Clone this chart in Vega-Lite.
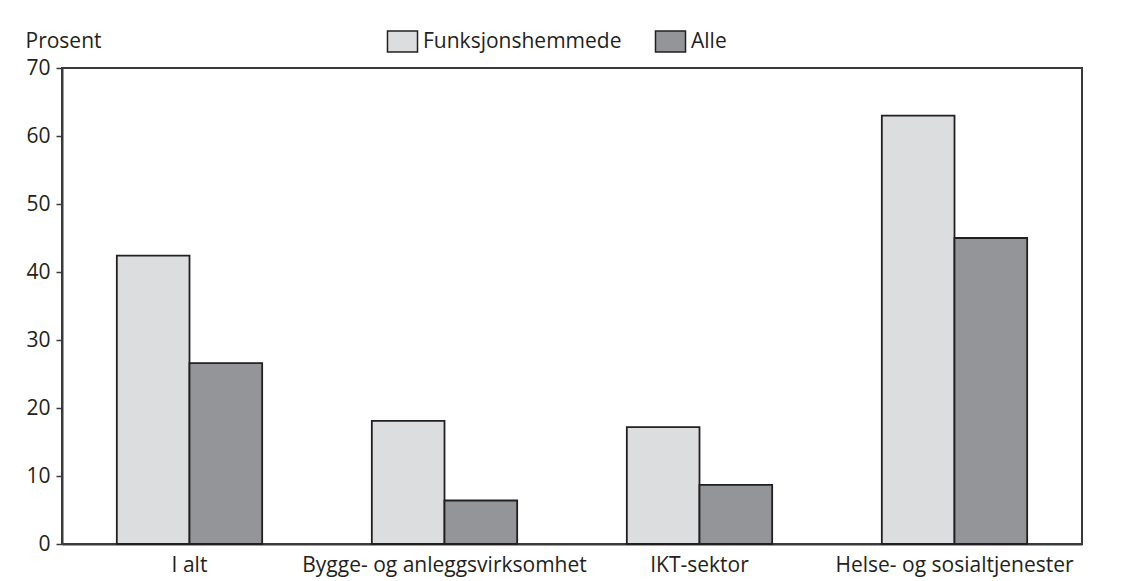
{
  "$schema": "https://vega.github.io/schema/vega-lite/v6.json",
  "width": 1020,
  "height": 476,
  "autosize": "none",
  "padding": {"left": 62, "top": 68, "right": 55, "bottom": 37},
  "background": "white",
  "data": {
    "values": [
      {"kategori": "I alt", "gruppe": "Funksjonshemmede", "prosent": 42.4},
      {"kategori": "I alt", "gruppe": "Alle", "prosent": 26.6},
      {"kategori": "Bygge- og anleggsvirksomhet", "gruppe": "Funksjonshemmede", "prosent": 18.1},
      {"kategori": "Bygge- og anleggsvirksomhet", "gruppe": "Alle", "prosent": 6.4},
      {"kategori": "IKT-sektor", "gruppe": "Funksjonshemmede", "prosent": 17.2},
      {"kategori": "IKT-sektor", "gruppe": "Alle", "prosent": 8.7},
      {"kategori": "Helse- og sosialtjenester", "gruppe": "Funksjonshemmede", "prosent": 63.0},
      {"kategori": "Helse- og sosialtjenester", "gruppe": "Alle", "prosent": 45.0}
    ]
  },
  "mark": {"type": "bar", "stroke": "#231f20", "strokeWidth": 1.8},
  "encoding": {
    "x": {
      "field": "kategori",
      "type": "nominal",
      "sort": null,
      "scale": {"paddingInner": 0.43, "paddingOuter": 0.215},
      "axis": {
        "title": null,
        "labelAngle": 0,
        "ticks": false,
        "labelPadding": 10,
        "labelFontSize": 21,
        "labelFont": "Open Sans",
        "labelColor": "#231f20",
        "labelLimit": 0,
        "domainColor": "#3a3a3a",
        "domainWidth": 2
      }
    },
    "xOffset": {"field": "gruppe", "type": "nominal", "sort": ["Funksjonshemmede", "Alle"]},
    "y": {
      "field": "prosent",
      "type": "quantitative",
      "scale": {"domain": [0, 70], "nice": false},
      "axis": {
        "values": [0, 10, 20, 30, 40, 50, 60, 70],
        "grid": false,
        "tickSize": 6,
        "tickColor": "#3a3a3a",
        "tickWidth": 1.5,
        "labelPadding": 6,
        "labelFontSize": 21,
        "labelFont": "Open Sans",
        "labelColor": "#231f20",
        "domainColor": "#3a3a3a",
        "domainWidth": 2,
        "title": "Prosent",
        "titleAngle": 0,
        "titleAlign": "left",
        "titleBaseline": "alphabetic",
        "titleX": -37,
        "titleY": -21,
        "titleFont": "Open Sans",
        "titleFontSize": 21,
        "titleFontWeight": "normal",
        "titleColor": "#231f20"
      }
    },
    "fill": {
      "field": "gruppe",
      "type": "nominal",
      "sort": ["Funksjonshemmede", "Alle"],
      "scale": {"domain": ["Funksjonshemmede", "Alle"], "range": ["#dcdddf", "#939598"]},
      "legend": {
        "title": null,
        "orient": "none",
        "direction": "horizontal",
        "legendX": 329,
        "legendY": -38,
        "symbolType": "M-1.43,-1H1.43V1H-1.43Z",
        "symbolSize": 441,
        "symbolStrokeColor": "#231f20",
        "symbolStrokeWidth": 1.5,
        "symbolOpacity": 1,
        "labelFont": "Open Sans",
        "labelFontSize": 21,
        "labelColor": "#231f20",
        "labelLimit": 0,
        "labelOffset": 9,
        "columnPadding": 30
      }
    }
  },
  "config": {
    "view": {"stroke": "#3a3a3a", "strokeWidth": 2}
  }
}
